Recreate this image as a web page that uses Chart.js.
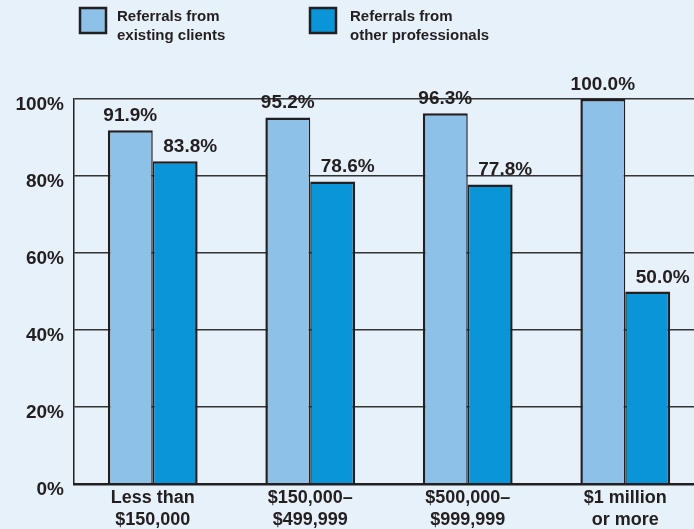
<!DOCTYPE html>
<html>
<head>
<meta charset="utf-8">
<script src="https://cdn.jsdelivr.net/npm/chart.js@4.4.1/dist/chart.umd.min.js"></script>
<style>
  html, body { margin: 0; padding: 0; background: #e7f1fa; overflow: hidden; }
  canvas { display: block; }
</style>
</head>
<body>
<canvas id="chart" width="704" height="529"></canvas>
<script>
// Chart data
const categories = [
  ['Less than', '$150,000'],
  ['$150,000\u2013', '$499,999'],
  ['$500,000\u2013', '$999,999'],
  ['$1 million', 'or more']
];
const existingClients = [91.9, 95.2, 96.3, 100.0];
const otherProfessionals = [83.8, 78.6, 77.8, 50.0];
const seriesNames = [
  ['Referrals from', 'existing clients'],
  ['Referrals from', 'other professionals']
];
const yTicks = [0, 20, 40, 60, 80, 100];

const INK = '#231f20';
const FONT = '"Liberation Sans", Arial, sans-serif';

// Legend with two-line labels, drawn at the top left
const topLegend = {
  id: 'topLegend',
  afterDraw(chart) {
    const ctx = chart.ctx;
    const spots = [{ box: 80, text: 117 }, { box: 310, text: 350 }];
    ctx.save();
    chart.data.datasets.forEach((ds, i) => {
      const s = spots[i];
      ctx.fillStyle = ds.backgroundColor;
      ctx.fillRect(s.box, 8, 26, 25);
      ctx.lineWidth = 2.5;
      ctx.strokeStyle = INK;
      ctx.strokeRect(s.box, 8, 26, 25);
      ctx.fillStyle = INK;
      ctx.font = 'bold 15px ' + FONT;
      ctx.textAlign = 'left';
      ctx.textBaseline = 'alphabetic';
      ds.legendLines.forEach((line, j) => ctx.fillText(line, s.text, 21 + j * 18.5));
    });
    ctx.restore();
  }
};

// Value labels above the bars
const valueLabels = {
  id: 'valueLabels',
  afterDatasetsDraw(chart) {
    const ctx = chart.ctx;
    ctx.save();
    ctx.font = 'bold 19px ' + FONT;
    ctx.fillStyle = INK;
    ctx.textAlign = 'center';
    ctx.textBaseline = 'alphabetic';
    chart.data.datasets.forEach((ds, i) => {
      const meta = chart.getDatasetMeta(i);
      meta.data.forEach((bar, j) => {
        const shift = i === 1 ? 15 : 0;
        ctx.fillText(ds.data[j].toFixed(1) + '%', bar.x + shift, bar.y - 9);
      });
    });
    ctx.restore();
  }
};

new Chart(document.getElementById('chart'), {
  type: 'bar',
  data: {
    labels: categories,
    datasets: [
      {
        label: seriesNames[0].join(' '),
        legendLines: seriesNames[0],
        data: existingClients,
        backgroundColor: '#8ec1e8',
        borderColor: INK,
        borderWidth: { top: 2.5, left: 2.5, right: 1.5, bottom: 0 },
        borderSkipped: false
      },
      {
        label: seriesNames[1].join(' '),
        legendLines: seriesNames[1],
        data: otherProfessionals,
        backgroundColor: '#0995d8',
        borderColor: INK,
        borderWidth: { top: 2.5, left: 1.5, right: 2.5, bottom: 0 },
        borderSkipped: false
      }
    ]
  },
  options: {
    responsive: false,
    animation: false,
    layout: { padding: { top: 99, left: 0, right: 0, bottom: 0 } },
    datasets: { bar: { categoryPercentage: 0.57, barPercentage: 1.0 } },
    plugins: {
      legend: { display: false },
      tooltip: { enabled: false }
    },
    scales: {
      x: {
        grid: { display: false, drawTicks: false },
        border: { display: true, color: INK, width: 2.5, z: 1 },
        ticks: {
          color: INK,
          padding: 4,
          maxRotation: 0,
          autoSkip: false,
          font: { family: FONT, size: 18, weight: 'bold', lineHeight: 1.17 }
        },
        afterFit(scale) { scale.height = 45; }
      },
      y: {
        min: 0,
        max: 100,
        grid: { color: '#333333', lineWidth: 1.5, drawTicks: false },
        border: { display: true, color: INK, width: 1.5 },
        afterBuildTicks(scale) { scale.ticks = yTicks.map(v => ({ value: v })); },
        ticks: {
          color: INK,
          padding: 10,
          labelOffset: 6,
          font: { family: FONT, size: 19, weight: 'bold' },
          callback: v => v + '%'
        },
        afterFit(scale) { scale.width = 74; }
      }
    }
  },
  plugins: [valueLabels, topLegend]
});
</script>
</body>
</html>
